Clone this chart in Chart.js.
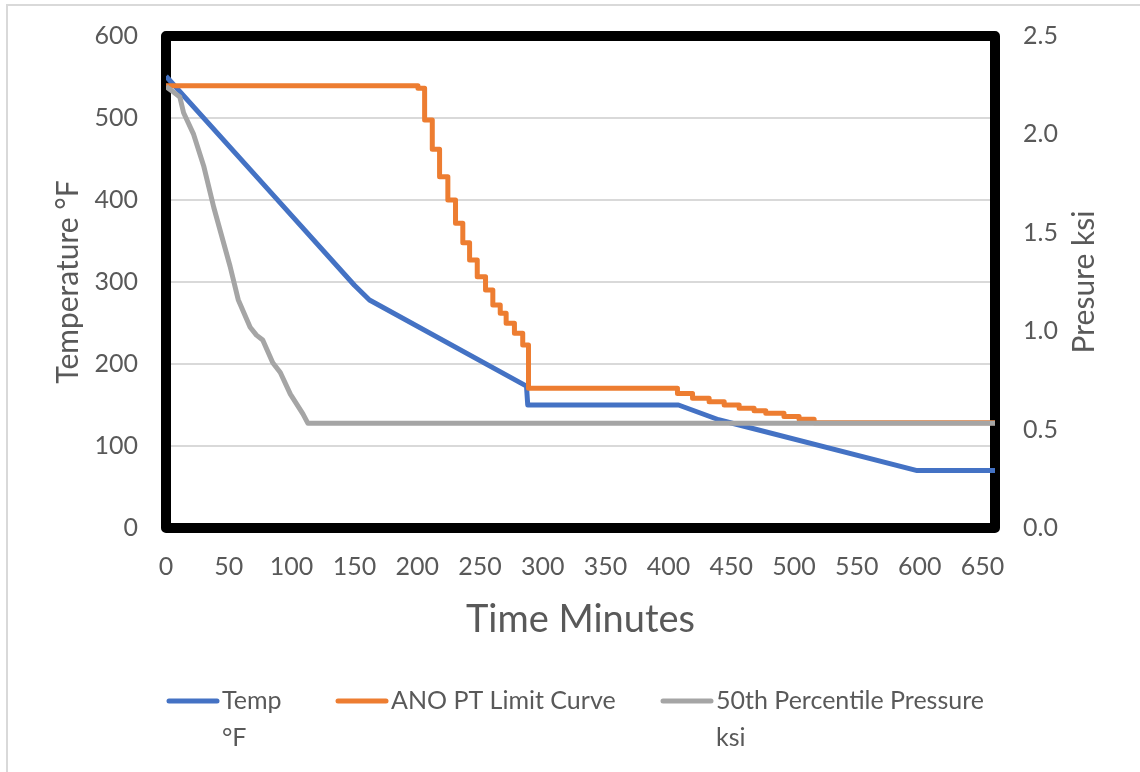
<!DOCTYPE html>
<html>
<head>
<meta charset="utf-8">
<title>Cooldown Temperature and Pressure</title>
<script src="https://cdn.jsdelivr.net/npm/chart.js@4.4.1/dist/chart.umd.min.js"></script>
<style>
  html, body { margin: 0; padding: 0; background: #fff; }
</style>
</head>
<body>
<canvas id="cooldown" width="1140" height="772"></canvas>
<script>
// Temp (left axis, °F)
const tempTime = [0, 80, 150, 162, 287, 288, 408, 440, 598, 660];
const tempF    = [551, 415, 296, 278, 173, 150, 150, 132, 70, 70];

// ANO PT limit curve (right axis, ksi) - each level holds from its time on
const limitTime = [0, 200.6, 205.9, 212, 217.8, 224.4, 230.5, 236.3, 241.7, 247.8, 254.4,
                   260.2, 266.1, 270.8, 277.4, 284, 288.6, 407.2, 419.2, 432.4, 444.4,
                   456.3, 468.2, 477.5, 492, 504, 516, 660];
const limitKsi  = [2.247, 2.234, 2.073, 1.924, 1.785, 1.667, 1.548, 1.45, 1.362, 1.277, 1.209,
                   1.133, 1.091, 1.04, 0.989, 0.93, 0.71, 0.684, 0.659, 0.642, 0.625,
                   0.608, 0.596, 0.583, 0.566, 0.552, 0.535, 0.535];

// 50th percentile pressure (right axis, ksi)
const pressTime = [0, 5, 11, 14, 22, 30, 38, 51, 57.5, 67, 72, 77, 85, 91, 99, 109, 113, 660];
const pressKsi  = [2.243, 2.22, 2.19, 2.11, 2.0, 1.84, 1.63, 1.33, 1.16, 1.02, 0.98, 0.955,
                   0.84, 0.79, 0.68, 0.58, 0.532, 0.532];

const timeTicks = [0, 50, 100, 150, 200, 250, 300, 350, 400, 450, 500, 550, 600, 650];
const tempTicks = [0, 100, 200, 300, 400, 500, 600];
const ksiTicks  = [0, 0.5, 1.0, 1.5, 2.0, 2.5];

const seriesNames  = ['Temp °F', 'ANO PT Limit Curve', '50th Percentile Pressure ksi'];
const legendLabels = [['Temp', '°F'], ['ANO PT Limit Curve'], ['50th Percentile Pressure', 'ksi']];

const TEXT = '#595959';
Chart.defaults.font.family = 'Lato';
Chart.defaults.color = TEXT;

function xy(xs, ys) {
  return xs.map((x, i) => ({ x: x, y: ys[i] }));
}

// fixed axis width; drop the label overhang so the plot keeps its own top/bottom
function fixWidth(w) {
  return s => { s.width = w; s.paddingTop = 0; s.paddingBottom = 0; };
}

// outer box, thick plot frame, right axis title and the legend
const decor = {
  id: 'decor',
  beforeDraw(chart) {
    const ctx = chart.ctx;
    ctx.save();
    ctx.fillStyle = '#fff';
    ctx.fillRect(0, 0, chart.width, chart.height);
    ctx.strokeStyle = '#d9d9d9';
    ctx.lineWidth = 2;
    ctx.beginPath();
    ctx.moveTo(7, chart.height);
    ctx.lineTo(7, 5);
    ctx.lineTo(chart.width, 5);
    ctx.stroke();
    ctx.restore();
  },
  beforeDatasetsDraw(chart) {
    const ctx = chart.ctx;
    const a = chart.chartArea;
    ctx.save();
    ctx.strokeStyle = '#000';
    ctx.lineWidth = 10;
    ctx.lineJoin = 'round';
    ctx.strokeRect(a.left, a.top, a.right - a.left, a.bottom - a.top);
    ctx.restore();
  },
  afterDraw(chart) {
    const ctx = chart.ctx;
    const a = chart.chartArea;
    ctx.save();
    // secondary axis title, reading bottom to top
    ctx.fillStyle = TEXT;
    ctx.font = '30px Lato';
    ctx.textAlign = 'center';
    ctx.textBaseline = 'middle';
    ctx.translate(1084, (a.top + a.bottom) / 2);
    ctx.rotate(-Math.PI / 2);
    ctx.fillText('Presure ksi', 0, 0);
    ctx.restore();

    // legend
    const startX = [166, 335, 660];
    const y0 = 701, lineGap = 37;
    ctx.save();
    ctx.font = '25px Lato';
    ctx.textAlign = 'left';
    ctx.textBaseline = 'middle';
    chart.data.datasets.forEach((ds, i) => {
      const x0 = startX[i];
      ctx.strokeStyle = ds.borderColor;
      ctx.lineWidth = 5;
      ctx.lineCap = 'round';
      ctx.beginPath();
      ctx.moveTo(x0 + 3, y0);
      ctx.lineTo(x0 + 51, y0);
      ctx.stroke();
      ctx.fillStyle = TEXT;
      legendLabels[i].forEach((txt, j) => ctx.fillText(txt, x0 + 56, y0 + j * lineGap));
    });
    ctx.restore();
  }
};

const ctx = document.getElementById('cooldown').getContext('2d');
const chart = new Chart(ctx, {
  type: 'line',
  data: {
    datasets: [
      {
        label: seriesNames[0],
        data: xy(tempTime, tempF),
        yAxisID: 'y',
        borderColor: '#4472C4',
        order: 3
      },
      {
        label: seriesNames[1],
        data: xy(limitTime, limitKsi),
        yAxisID: 'y1',
        borderColor: '#ED7D31',
        stepped: 'before',
        order: 2
      },
      {
        label: seriesNames[2],
        data: xy(pressTime, pressKsi),
        yAxisID: 'y1',
        borderColor: '#A5A5A5',
        order: 1
      }
    ]
  },
  options: {
    responsive: false,
    animation: false,
    devicePixelRatio: 1,
    layout: { padding: { top: 36, left: 8, right: 8, bottom: 120 } },
    elements: {
      point: { radius: 0 },
      line: { borderWidth: 5, tension: 0, borderJoinStyle: 'round', fill: false }
    },
    plugins: {
      legend: { display: false },
      tooltip: { enabled: false }
    },
    scales: {
      x: {
        type: 'linear',
        min: 0,
        max: 660,
        afterBuildTicks: s => { s.ticks = timeTicks.map(v => ({ value: v })); },
        afterFit: s => { s.height = 124; },
        grid: { display: false },
        border: { display: false },
        ticks: { font: { size: 25 }, padding: 16, maxRotation: 0, autoSkip: false },
        title: {
          display: true,
          text: 'Time Minutes',
          font: { size: 38 },
          padding: { top: 0, bottom: 9 }
        }
      },
      y: {
        position: 'left',
        min: 0,
        max: 600,
        afterBuildTicks: s => { s.ticks = tempTicks.map(v => ({ value: v })); },
        afterFit: fixWidth(158),
        grid: { color: '#d9d9d9', lineWidth: 2, drawTicks: false },
        border: { display: false },
        ticks: { font: { size: 25 }, padding: 28 },
        title: {
          display: true,
          text: 'Temperature °F',
          font: { size: 30 },
          padding: { top: 42, bottom: 0 }
        }
      },
      y1: {
        position: 'right',
        min: 0,
        max: 2.5,
        afterBuildTicks: s => { s.ticks = ksiTicks.map(v => ({ value: v })); },
        afterFit: fixWidth(137),
        grid: { display: false, drawTicks: false },
        border: { display: false },
        ticks: { font: { size: 25 }, padding: 28, callback: v => v.toFixed(1) }
      }
    }
  },
  plugins: [decor]
});
</script>
</body>
</html>
